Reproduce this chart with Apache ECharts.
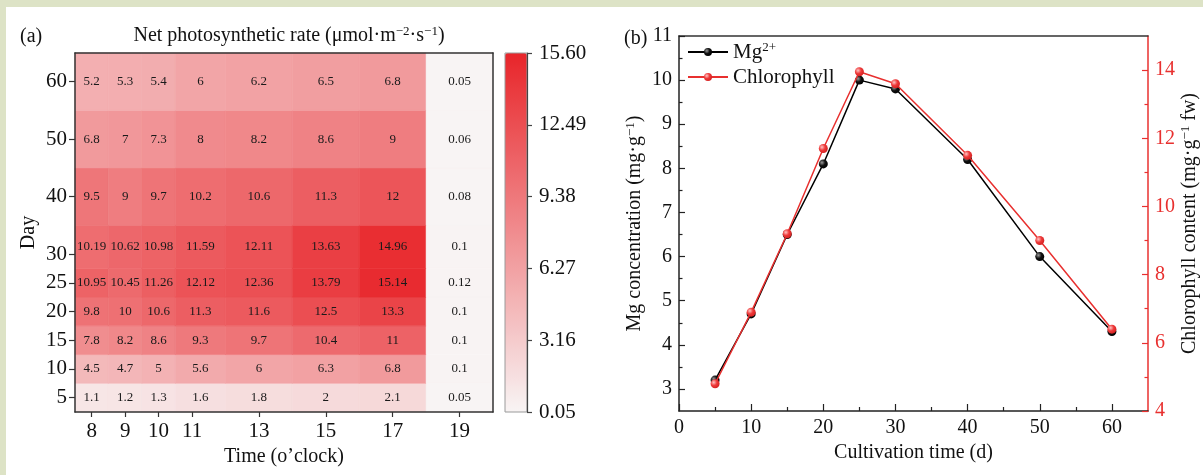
<!DOCTYPE html>
<html>
<head>
<meta charset="utf-8">
<script src="https://cdn.jsdelivr.net/npm/echarts@6/dist/echarts.min.js"></script>
<style>
  html, body { margin: 0; padding: 0; background: #dde3c6; }
  #chart { position: absolute; left: 6px; top: 7px; width: 1197px; height: 468px; background: #ffffff; }
</style>
</head>
<body>
<div id="chart"></div>
<script>
// ---- Panel (a): net photosynthetic rate, hour of day x cultivation day ----
const hours = [8, 9, 10, 11, 13, 15, 17, 19];
const days = [5, 10, 15, 20, 25, 30, 40, 50, 60];
// one list per cultivation day, values in the order of `hours`
const rateDay5  = [1.1, 1.2, 1.3, 1.6, 1.8, 2, 2.1, 0.05];
const rateDay10 = [4.5, 4.7, 5, 5.6, 6, 6.3, 6.8, 0.1];
const rateDay15 = [7.8, 8.2, 8.6, 9.3, 9.7, 10.4, 11, 0.1];
const rateDay20 = [9.8, 10, 10.6, 11.3, 11.6, 12.5, 13.3, 0.1];
const rateDay25 = [10.95, 10.45, 11.26, 12.12, 12.36, 13.79, 15.14, 0.12];
const rateDay30 = [10.19, 10.62, 10.98, 11.59, 12.11, 13.63, 14.96, 0.1];
const rateDay40 = [9.5, 9, 9.7, 10.2, 10.6, 11.3, 12, 0.08];
const rateDay50 = [6.8, 7, 7.3, 8, 8.2, 8.6, 9, 0.06];
const rateDay60 = [5.2, 5.3, 5.4, 6, 6.2, 6.5, 6.8, 0.05];
const rateRows = [rateDay5, rateDay10, rateDay15, rateDay20, rateDay25,
                  rateDay30, rateDay40, rateDay50, rateDay60];
const colorbarTicks = [0.05, 3.16, 6.27, 9.38, 12.49, 15.60];

// ---- Panel (b): Mg and chlorophyll over the cultivation period ----
const cultivationDays = [5, 10, 15, 20, 25, 30, 40, 50, 60];
const mgConc = [3.2, 4.7, 6.5, 8.1, 10.0, 9.8, 8.2, 6.0, 4.3];
const chlContent = [4.8, 6.9, 9.2, 11.7, 13.95, 13.6, 11.5, 9.0, 6.4];
const dayTicks = [0, 10, 20, 30, 40, 50, 60];
const dayMinorTicks = [5, 15, 25, 35, 45, 55];
const mgTicks = [3, 4, 5, 6, 7, 8, 9, 10, 11];
const mgMinorTicks = [3.5, 4.5, 5.5, 6.5, 7.5, 8.5, 9.5, 10.5];
const chlTicks = [4, 6, 8, 10, 12, 14];
const chlMinorTicks = [5, 7, 9, 11, 13];

const SERIF = '"Liberation Serif", "Times New Roman", serif';
const INK = '#111111';
const RED = '#e8302f';

// cell borders sit halfway between neighbouring samples
function cellEdges(v) {
  const n = v.length;
  const e = [v[0] - (v[1] - v[0]) / 2];
  for (let i = 0; i < n - 1; i++) e.push((v[i] + v[i + 1]) / 2);
  e.push(v[n - 1] + (v[n - 1] - v[n - 2]) / 2);
  return e;
}
const hourEdges = cellEdges(hours);
const dayEdges = cellEdges(days);

const heatData = [];
rateRows.forEach((row, yi) => {
  row.forEach((v, xi) => heatData.push([hours[xi], days[yi], v, xi, yi]));
});

const supRich = {
  sup: { fontSize: 13, fontFamily: SERIF, verticalAlign: 'top', lineHeight: 22, color: INK }
};

function lineOnlyAxis(gridIndex, position, min, max) {
  return {
    gridIndex, position, type: 'value', min, max, z: 10,
    axisLine: { show: true, onZero: false, lineStyle: { color: '#333', width: 1.5 } },
    axisTick: { show: false }, axisLabel: { show: false }, splitLine: { show: false }
  };
}
function minorTickAxis(gridIndex, position, min, max, ticks, len, color) {
  return {
    gridIndex, position, type: 'value', min, max, z: 10,
    axisLine: { show: false, onZero: false },
    axisTick: { show: true, inside: true, length: len, customValues: ticks,
                lineStyle: { color, width: 1.2 } },
    axisLabel: { show: false }, splitLine: { show: false }
  };
}

const chart = echarts.init(document.getElementById('chart'), null, { renderer: 'canvas' });

const option = {
  animation: false,
  backgroundColor: '#ffffff',
  textStyle: { fontFamily: SERIF },
  title: [
    { text: '(a)', left: 9, top: 15, textStyle: { fontSize: 20, fontWeight: 'normal', color: INK, fontFamily: SERIF } },
    { text: 'Net photosynthetic rate (μmol·m{sup|−2}·s{sup|−1})', left: 278, top: 13, textAlign: 'center',
      textStyle: { fontSize: 20, fontWeight: 'normal', color: INK, fontFamily: SERIF, lineHeight: 22, rich: supRich } },
    { text: '(b)', left: 613, top: 17, textStyle: { fontSize: 20, fontWeight: 'normal', color: INK, fontFamily: SERIF } }
  ],
  grid: [
    { left: 69, top: 46, width: 418, height: 359, outerBoundsMode: 'none' },
    { left: 499, top: 46, width: 22, height: 359, show: true, z: 10, outerBoundsMode: 'none',
      backgroundColor: 'transparent', borderColor: '#9a9a9a', borderWidth: 1 },
    { left: 673, top: 29, width: 469, height: 375, outerBoundsMode: 'none' }
  ],
  visualMap: {
    type: 'continuous', min: 0.05, max: 15.6, dimension: 2, seriesIndex: 0,
    calculable: false, orient: 'vertical', left: 499, top: 46,
    itemWidth: 22, itemHeight: 359, padding: 0, text: null, hoverLink: false,
    inRange: { color: ['#f8f4f4', '#e8252a'] }
  },
  legend: {
    data: ['Mg', 'Chlorophyll'], orient: 'vertical', left: 676, top: 29,
    itemWidth: 40, itemHeight: 10, itemGap: 3, selectedMode: false,
    formatter: name => (name === 'Mg' ? 'Mg{sup|2+}' : name),
    textStyle: { fontSize: 21, color: INK, fontFamily: SERIF, lineHeight: 22, rich: supRich }
  },
  xAxis: [
    { // 0: hour of day
      gridIndex: 0, type: 'value', position: 'bottom', min: hourEdges[0], max: hourEdges[hourEdges.length - 1], z: 10,
      axisLine: { onZero: false, lineStyle: { color: '#333', width: 1.5 } },
      axisTick: { customValues: hours, length: 5, lineStyle: { color: '#333', width: 1.2 } },
      axisLabel: { customValues: hours, margin: 9, fontSize: 21, color: INK, fontFamily: SERIF },
      splitLine: { show: false },
      name: 'Time (o’clock)', nameLocation: 'middle', nameGap: 32,
      nameTextStyle: { fontSize: 20, color: INK, fontFamily: SERIF }
    },
    lineOnlyAxis(0, 'top', hourEdges[0], hourEdges[hourEdges.length - 1]), // 1
    { gridIndex: 1, type: 'value', min: 0, max: 1, show: false }, // 2
    { // 3: cultivation day
      gridIndex: 2, type: 'value', position: 'bottom', min: 0, max: 65, z: 10,
      axisLine: { onZero: false, lineStyle: { color: '#222', width: 1.5 } },
      axisTick: { inside: true, length: 7, customValues: dayTicks, lineStyle: { color: '#222', width: 1.2 } },
      axisLabel: { customValues: dayTicks, margin: 7, fontSize: 20, color: INK, fontFamily: SERIF },
      splitLine: { show: false },
      name: 'Cultivation time (d)', nameLocation: 'middle', nameGap: 31,
      nameTextStyle: { fontSize: 20, color: INK, fontFamily: SERIF }
    },
    minorTickAxis(2, 'bottom', 0, 65, dayMinorTicks, 4, '#222'), // 4
    lineOnlyAxis(2, 'top', 0, 65) // 5
  ],
  yAxis: [
    { // 0: cultivation day (heatmap rows)
      gridIndex: 0, type: 'value', position: 'left', min: dayEdges[0], max: dayEdges[dayEdges.length - 1], z: 10,
      axisLine: { onZero: false, lineStyle: { color: '#333', width: 1.5 } },
      axisTick: { customValues: days, length: 6, lineStyle: { color: '#333', width: 1.2 } },
      axisLabel: { customValues: days, margin: 8, fontSize: 21, color: INK, fontFamily: SERIF },
      splitLine: { show: false },
      name: 'Day', nameLocation: 'middle', nameGap: 36,
      nameTextStyle: { fontSize: 20, color: INK, fontFamily: SERIF }
    },
    lineOnlyAxis(0, 'right', dayEdges[0], dayEdges[dayEdges.length - 1]), // 1
    { // 2: colour bar scale
      gridIndex: 1, type: 'value', position: 'right', min: colorbarTicks[0], max: colorbarTicks[colorbarTicks.length - 1], z: 12,
      axisLine: { onZero: false, lineStyle: { color: '#444', width: 1.2 } },
      axisTick: { customValues: colorbarTicks, length: 5, lineStyle: { color: '#444', width: 1.2 } },
      axisLabel: { customValues: colorbarTicks, margin: 12, fontSize: 21, color: INK, fontFamily: SERIF,
                   formatter: v => v.toFixed(2) },
      splitLine: { show: false }
    },
    { // 3: Mg concentration
      gridIndex: 2, type: 'value', position: 'left', min: 2.5, max: 11, z: 10,
      axisLine: { onZero: false, lineStyle: { color: '#222', width: 1.5 } },
      axisTick: { inside: true, length: 6, customValues: mgTicks, lineStyle: { color: '#222', width: 1.2 } },
      axisLabel: { customValues: mgTicks, margin: 7, fontSize: 20, color: INK, fontFamily: SERIF },
      splitLine: { show: false },
      name: 'Mg concentration (mg·g{sup|−1})', nameLocation: 'middle', nameGap: 33,
      nameTextStyle: { fontSize: 20, color: INK, fontFamily: SERIF, lineHeight: 22, rich: supRich }
    },
    minorTickAxis(2, 'left', 2.5, 11, mgMinorTicks, 3.5, '#222'), // 4
    { // 5: chlorophyll content
      gridIndex: 2, type: 'value', position: 'right', min: 4, max: 15, z: 10,
      axisLine: { onZero: false, lineStyle: { color: RED, width: 1.5 } },
      axisTick: { inside: true, length: 6, customValues: chlTicks, lineStyle: { color: RED, width: 1.2 } },
      axisLabel: { customValues: chlTicks, margin: 7, fontSize: 20, color: RED, fontFamily: SERIF },
      splitLine: { show: false },
      name: 'Chlorophyll content (mg·g{sup|−1} fw)', nameLocation: 'middle', nameGap: 31,
      nameTextStyle: { fontSize: 20, color: INK, fontFamily: SERIF, lineHeight: 22, rich: supRich }
    },
    minorTickAxis(2, 'right', 4, 15, chlMinorTicks, 3.5, RED) // 6
  ],
  series: [
    {
      type: 'custom', name: 'Pn', xAxisIndex: 0, yAxisIndex: 0,
      data: heatData,
      encode: { x: 0, y: 1 },
      renderItem(params, api) {
        const xi = api.value(3), yi = api.value(4);
        const p0 = api.coord([hourEdges[xi], dayEdges[yi + 1]]);
        const p1 = api.coord([hourEdges[xi + 1], dayEdges[yi]]);
        const fill = api.visual('color');
        return {
          type: 'group',
          children: [
            { type: 'rect',
              shape: { x: p0[0], y: p0[1], width: p1[0] - p0[0], height: p1[1] - p0[1] },
              style: { fill, stroke: fill, lineWidth: 0.6 } },
            { type: 'text', z2: 10,
              style: { text: String(api.value(2)), x: (p0[0] + p1[0]) / 2, y: (p0[1] + p1[1]) / 2,
                       align: 'center', verticalAlign: 'middle',
                       font: '13px ' + SERIF, fill: '#1a1a1a' } }
          ]
        };
      }
    },
    {
      type: 'line', name: 'Mg', xAxisIndex: 3, yAxisIndex: 3,
      data: cultivationDays.map((d, i) => [d, mgConc[i]]),
      symbol: 'circle', symbolSize: 9,
      lineStyle: { color: '#000000', width: 1.5 },
      itemStyle: { color: { type: 'radial', x: 0.35, y: 0.35, r: 0.7,
                            colorStops: [{ offset: 0, color: '#9a9a9a' }, { offset: 0.5, color: '#111' }, { offset: 1, color: '#000' }] } },
      z: 3
    },
    {
      type: 'line', name: 'Chlorophyll', xAxisIndex: 3, yAxisIndex: 5,
      data: cultivationDays.map((d, i) => [d, chlContent[i]]),
      symbol: 'circle', symbolSize: 9,
      lineStyle: { color: RED, width: 1.5 },
      itemStyle: { color: { type: 'radial', x: 0.35, y: 0.35, r: 0.7,
                            colorStops: [{ offset: 0, color: '#ffc4c4' }, { offset: 0.5, color: '#ee3a3a' }, { offset: 1, color: '#d42020' }] } },
      z: 4
    }
  ]
};

chart.setOption(option);
</script>
</body>
</html>
